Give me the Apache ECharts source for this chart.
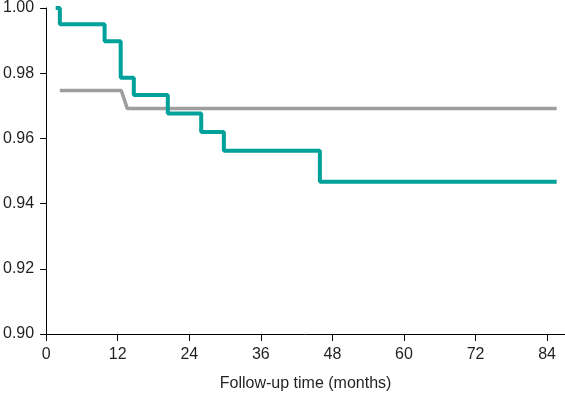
<!DOCTYPE html>
<html>
<head>
<meta charset="utf-8">
<script src="https://cdn.jsdelivr.net/npm/echarts@6/dist/echarts.min.js"></script>
<style>
  html, body { margin: 0; padding: 0; background: #fff; }
  #chart { width: 565px; height: 397px; }
</style>
</head>
<body>
<div id="chart"></div>
<script>
// follow-up time (months) and survival
const tealTimes = [1.6, 2.3, 9.8, 12.5, 14.7, 20.4, 26.0, 29.8, 45.9, 85.6]
const tealValues = [1.0, 0.995, 0.9898, 0.9786, 0.9733, 0.9676, 0.962, 0.9562, 0.9467, 0.9467]
const greyTimes = [2.3, 12.6, 13.6, 85.6]
const greyValues = [0.9747, 0.9747, 0.9692, 0.9692]
const xTicks = [0, 12, 24, 36, 48, 60, 72, 84]
const yTicks = [0.90, 0.92, 0.94, 0.96, 0.98, 1.00]

const textColor = '#231f20'
const fontFamily = '"Liberation Sans", Arial, sans-serif'

const chart = echarts.init(document.getElementById('chart'))

chart.setOption({
  animation: false,
  grid: {
    left: 45.5,
    right: 0,
    top: 6,
    bottom: 58
  },
  xAxis: {
    type: 'value',
    min: 0,
    max: 87,
    interval: 12,
    name: 'Follow-up time (months)',
    nameLocation: 'middle',
    nameGap: 42,
    nameTextStyle: { color: textColor, fontSize: 16, fontFamily },
    axisLine: { show: true, lineStyle: { color: '#000', width: 1 } },
    axisTick: { show: true, length: 7, customValues: xTicks, lineStyle: { color: '#000' } },
    axisLabel: { customValues: xTicks, margin: 13, color: textColor, fontSize: 16, fontFamily },
    splitLine: { show: false }
  },
  yAxis: {
    type: 'value',
    min: 0.9,
    max: 1.0,
    axisLine: { show: true, lineStyle: { color: '#000', width: 1 } },
    axisTick: { show: true, length: 6, customValues: yTicks, lineStyle: { color: '#000' } },
    axisLabel: {
      customValues: yTicks,
      margin: 12,
      color: textColor,
      fontSize: 16,
      fontFamily,
      formatter: v => v.toFixed(2)
    },
    splitLine: { show: false }
  },
  series: [{
    name: 'grey',
    type: 'line',
    data: greyTimes.map((t, i) => [t, greyValues[i]]),
    showSymbol: false,
    clip: false,
    lineStyle: { color: '#9e9ea0', width: 3.5 }
  }, {
    name: 'teal',
    type: 'line',
    step: 'end',
    data: tealTimes.map((t, i) => [t, tealValues[i]]),
    showSymbol: false,
    clip: false,
    lineStyle: { color: '#00a19a', width: 4 }
  }]
})
</script>
</body>
</html>
